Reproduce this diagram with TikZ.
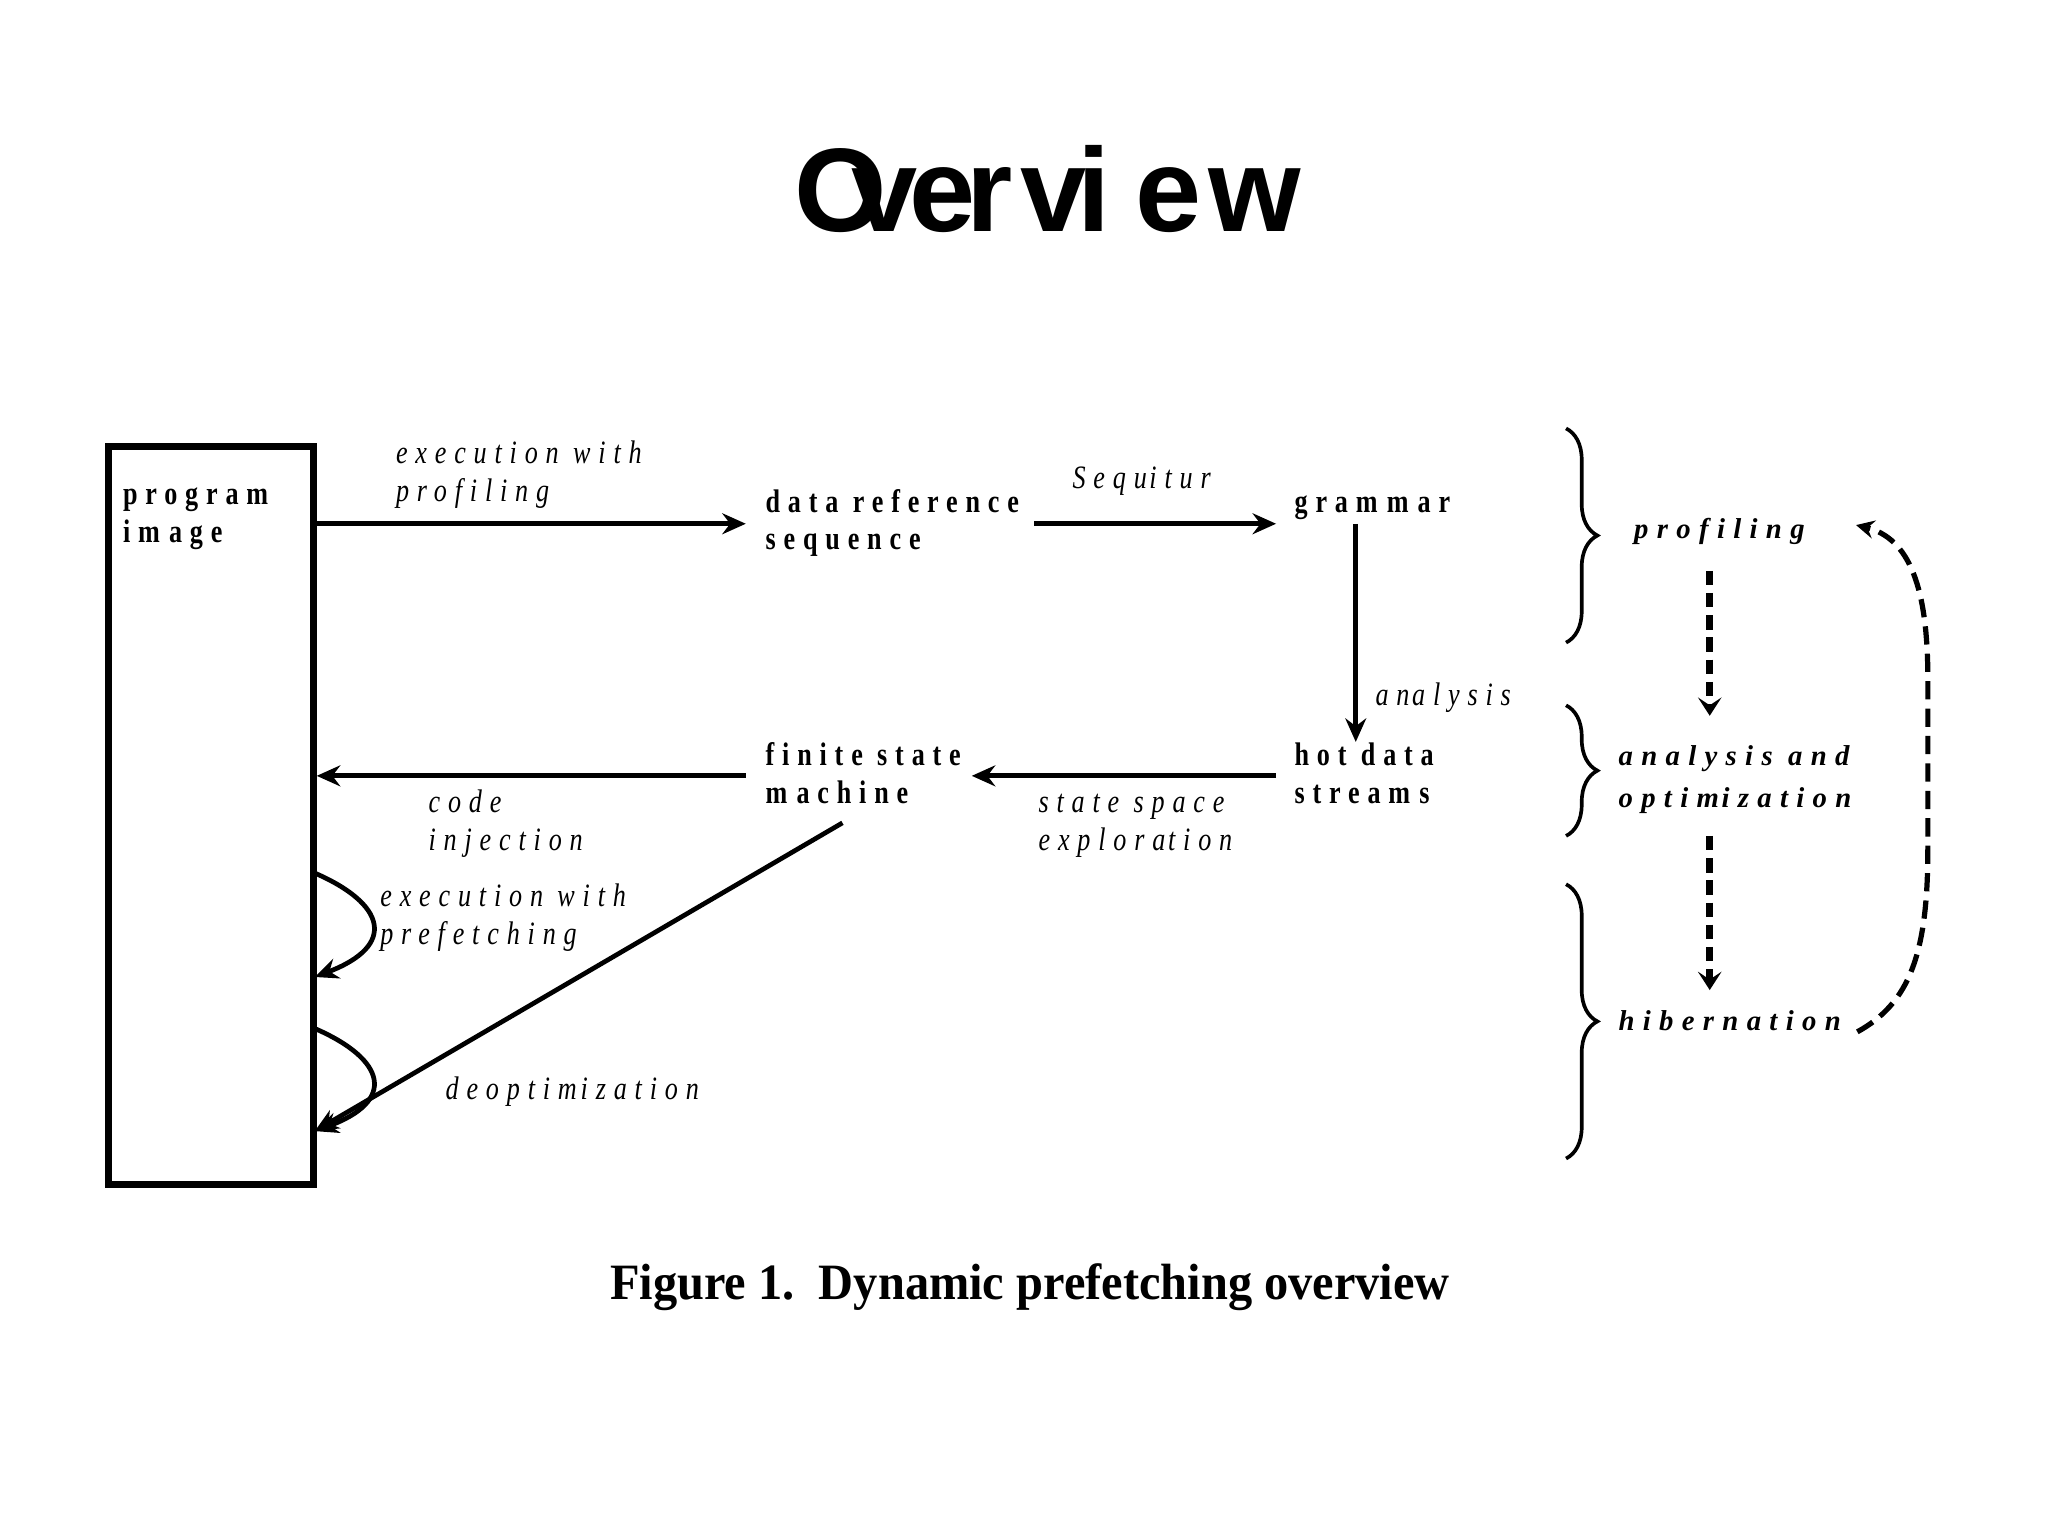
\documentclass[tikz,border=0pt]{standalone}
\usepackage{fontspec}
\usetikzlibrary{arrows.meta,decorations.pathreplacing}
\newfontfamily\titlefont{Liberation Sans}
\newfontfamily\capfont[FakeStretch=0.95]{Liberation Serif}
\newfontfamily\dgfont[FakeStretch=0.8,LetterSpace=24]{Liberation Serif}
\newfontfamily\rfont[LetterSpace=29]{Liberation Serif}
\newcommand{\twol}[2]{\begin{tabular}[t]{@{}l@{}}#1\\#2\end{tabular}}
\newcommand{\mg}{\kern7pt}
\begin{document}
\begin{tikzpicture}[x=1pt,y=-1pt,
  nodetext/.style={anchor=base west,inner sep=0pt,font=\dgfont\bfseries\fontsize{25}{29}\selectfont},
  lbl/.style={anchor=base west,inner sep=0pt,font=\dgfont\itshape\fontsize{25}{29}\selectfont},
  phase/.style={anchor=base west,inner sep=0pt,font=\rfont\bfseries\itshape\fontsize{22}{32}\selectfont},
  arr/.style={line width=3.6pt,-{Stealth[length=18pt,width=16pt,inset=6pt]}},
  dsh/.style={line width=5pt,dash pattern=on 11pt off 6pt,-{Stealth[length=14pt,width=18pt,inset=6pt]}},
  brc/.style={line width=2.8pt,decorate,decoration={brace,amplitude=24pt}}]
\fill[white] (0,0) rectangle (1568,1175);
\useasboundingbox (0,0) rectangle (1568,1175);

% title
\node[anchor=base west,inner sep=0pt,font=\titlefont\bfseries\fontsize{91}{91}\selectfont] (title) at (608,177)
  {O\kern-27pt v\kern-6pt e\kern-7pt r\kern6pt v\kern-7pt i\kern19pt e\kern5pt w};

% program image box
\node[draw,line width=5pt,minimum width=157pt,minimum height=565pt,anchor=north west,inner sep=0pt] (prog) at (80.5,339.5) {};
\node[nodetext] (progt) at (94,386) {\twol{program}{im\mg age}};

% node texts
\node[nodetext] (drs) at (586,392) {\twol{data reference}{sequence}};
\node[nodetext] (gram) at (991,392) {gram\mg m\mg ar};
\node[nodetext] (hds) at (991,586) {\twol{hot data}{stream\mg s}};
\node[nodetext] (fsm) at (586,586) {\twol{finite state}{m\mg achine}};

% labels
\node[lbl] (l1) at (303,355) {\twol{execution with}{profiling}};
\node[lbl] (l2) at (821,374) {Sequ\kern2pt itur};
\node[lbl] (l3) at (1053,540) {an\kern2pt alysis};
\node[lbl] (l4) at (795,622) {\twol{state space}{explora\kern2pt tion}};
\node[lbl] (l5) at (328,622) {\twol{code}{injection}};
\node[lbl] (l6) at (291,694) {\twol{execution with}{prefetching}};
\node[lbl] (l7) at (341,842) {deoptim\kern3pt ization};

% connector end points
\coordinate (a1e) at (571,401);
\coordinate (a2s) at (792,401);
\coordinate (a2e) at (977,401);
\coordinate (a3s) at (1038,401);
\coordinate (a3e) at (1038,568);
\coordinate (a4s) at (977,594);
\coordinate (a4e) at (744,594);
\coordinate (a5s) at (571,594);
\coordinate (c1s) at (240,668);
\coordinate (c1e) at (241,748);
\coordinate (c2s) at (240,787);
\coordinate (c2e) at (241,866);
\coordinate (ds) at (645,630);

\draw[arr] (prog.east |- a1e) -- (a1e);
\draw[arr] (a2s) -- (a2e);
\draw[arr] (a3s) -- (a3e);
\draw[arr] (a4s) -- (a4e);
\draw[arr] (a5s) -- (prog.east |- a5s);
\draw[arr] (c1s) .. controls (296,692) and (304,724) .. (c1e);
\draw[arr] (c2s) .. controls (296,811) and (304,843) .. (c2e);
\draw[arr] (ds) -- (c2e);

% phases
\draw[brc] (1199,328) -- (1199,492);
\draw[brc] (1199,540) -- (1199,640);
\draw[brc] (1199,677) -- (1199,887);
\node[phase] (prof) at (1251,412) {profiling};
\node[phase] (ao) at (1239,586) {\twol{analysis and}{optim\kern2pt ization}};
\node[phase] (hib) at (1239,789) {hibernation};

\coordinate (d1s) at (1309,437);
\coordinate (d1e) at (1309,548);
\coordinate (d2s) at (1309,640);
\coordinate (d2e) at (1309,758);
\draw[dsh] (d1s) -- (d1e);
\draw[dsh] (d2s) -- (d2e);
\coordinate (hibE) at (1422,790);
\coordinate (profE) at (1421,402);
\draw[line width=4pt,dash pattern=on 14pt off 7pt,-{Stealth[length=14pt,width=14pt,inset=5pt]}]
  (hibE) .. controls (1462,768) and (1476,730) .. (1476,650) -- (1476,520)
  .. controls (1476,450) and (1462,412) .. (profE);

% caption
\node[anchor=base west,inner sep=0pt,font=\capfont\bfseries\fontsize{39}{39}\selectfont] (cap) at (467,995) {Figure 1.\ \ Dynamic prefetching overview};
\end{tikzpicture}
\end{document}
